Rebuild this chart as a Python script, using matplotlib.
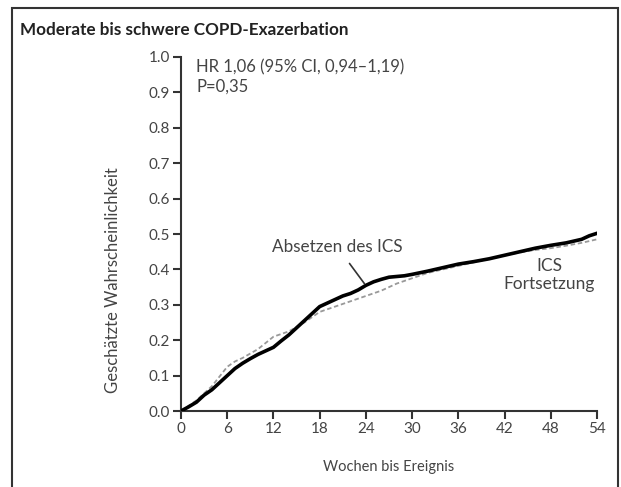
import numpy as np
import matplotlib
matplotlib.use("Agg")
import matplotlib.pyplot as plt
from matplotlib.patches import Rectangle

plt.rcParams['font.family'] = ['Lato', 'DejaVu Sans']

# Absetzen des ICS (black, solid)
wk_stop = [0, 1, 2, 3, 4, 5, 6, 7, 8, 9, 10, 11, 12, 13, 14, 15, 16, 17, 18, 19, 20,
           21, 22, 23, 24, 25, 26, 27, 28, 29, 30, 32, 34, 36, 38, 40, 42, 44, 46, 48,
           50, 52, 53, 54]
p_stop = [0.0, 0.012, 0.025, 0.045, 0.06, 0.08, 0.10, 0.12, 0.135, 0.148, 0.16, 0.17,
          0.18, 0.198, 0.215, 0.235, 0.255, 0.275, 0.295, 0.305, 0.315, 0.325, 0.332,
          0.342, 0.355, 0.365, 0.372, 0.378, 0.38, 0.382, 0.386, 0.395, 0.405, 0.415,
          0.422, 0.43, 0.44, 0.45, 0.46, 0.468, 0.475, 0.485, 0.495, 0.502]

# ICS Fortsetzung (grey, dashed)
wk_cont = [0, 2, 4, 6, 7, 8, 10, 12, 14, 16, 18, 20, 22, 24, 26, 28, 30, 32, 34, 36,
           38, 40, 42, 44, 46, 48, 50, 52, 54]
p_cont = [0.0, 0.03, 0.07, 0.125, 0.14, 0.15, 0.175, 0.21, 0.225, 0.25, 0.28, 0.295,
          0.31, 0.325, 0.34, 0.36, 0.375, 0.39, 0.40, 0.41, 0.42, 0.43, 0.44, 0.448,
          0.455, 0.46, 0.467, 0.475, 0.485]

fig = plt.figure(figsize=(6.21, 4.87), dpi=100)
ax = fig.add_axes([0.2915, 0.156, 0.6699, 0.727])

ax.plot(wk_cont, p_cont, color="#999999", lw=1.3, ls=(0, (2.5, 1.5)), zorder=2)
ax.plot(wk_stop, p_stop, color="black", lw=2.6, zorder=3)

ax.set_xlim(0, 54)
ax.set_ylim(0, 1.0)
ax.set_xticks(np.arange(0, 55, 6))
ax.set_yticks(np.arange(0, 1.01, 0.1))
ax.set_yticklabels([f"{v:.1f}" for v in np.arange(0, 1.01, 0.1)])
ax.spines["top"].set_visible(False)
ax.spines["right"].set_visible(False)
for s in ("left", "bottom"):
    ax.spines[s].set_linewidth(1.5)
    ax.spines[s].set_color("#333333")
ax.tick_params(direction="out", length=6, width=1.5, color="#333333",
               labelsize=11, labelcolor="#444444", pad=2)

ax.text(2.0, 0.972, "HR 1,06 (95% CI, 0,94\u20131,19)", fontsize=12, color="#444444",
        va="center", ha="left")
ax.text(2.0, 0.915, "P=0,35", fontsize=12, color="#444444", va="center", ha="left")

ax.annotate("Absetzen des ICS", xy=(23.8, 0.36), xytext=(20.3, 0.463),
            fontsize=12.3, color="#444444", ha="center", va="center",
            arrowprops=dict(arrowstyle="-", color="#333333", lw=1.2,
                            shrinkA=5, shrinkB=0))
ax.text(47.8, 0.384, "ICS\nFortsetzung", fontsize=12.5, color="#444444",
        ha="center", va="center", linespacing=1.2)

fig.text(20 / 621, 1 - 30 / 487, "Moderate bis schwere COPD-Exazerbation",
         fontsize=12.3, fontweight="bold", color="#222222", va="center", ha="left")
fig.text(389 / 621, 1 - 467 / 487, "Wochen bis Ereignis", fontsize=10.5,
         color="#444444", ha="center", va="center")
fig.text(113 / 621, 1 - 280 / 487, "Geschätzte Wahrscheinlichkeit", fontsize=12,
         color="#444444", ha="center", va="center", rotation=90)

fig.patches.append(Rectangle((12 / 621, -0.02), (618 - 12) / 621, 1 - 7.5 / 487 + 0.02,
                             transform=fig.transFigure, fill=False,
                             edgecolor="#333333", lw=1.5))

fig.savefig("out.png", dpi=100)
